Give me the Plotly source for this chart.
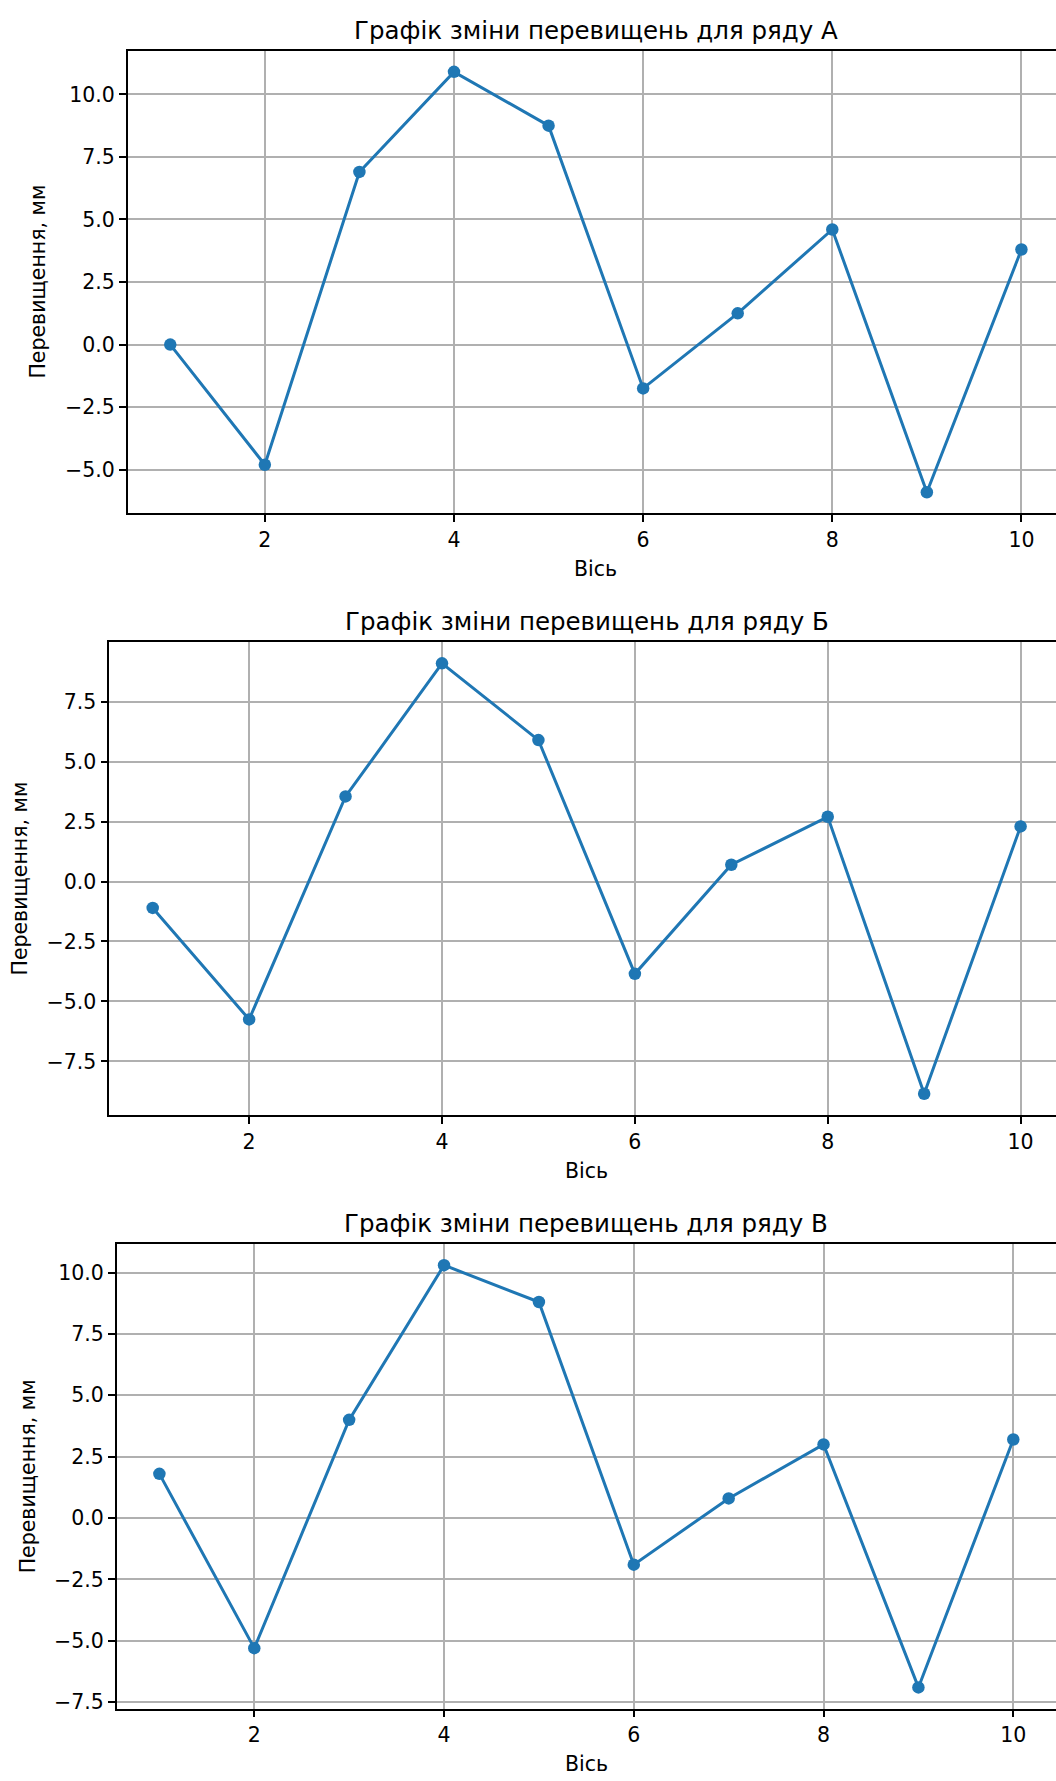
import plotly.graph_objects as go

# ---- data ----
axis_points = [1, 2, 3, 4, 5, 6, 7, 8, 9, 10]
series_a = [0.0, -4.8, 6.9, 10.9, 8.75, -1.75, 1.25, 4.6, -5.9, 3.8]
series_b = [-1.1, -5.75, 3.55, 9.1, 5.9, -3.85, 0.7, 2.7, -8.85, 2.3]
series_c = [1.8, -5.3, 4.0, 10.3, 8.8, -1.9, 0.8, 3.0, -6.9, 3.2]
titles = ["Графік зміни перевищень для ряду А",
          "Графік зміни перевищень для ряду Б",
          "Графік зміни перевищень для ряду В"]
x_label = "Вісь"
y_label = "Перевищення, мм"

W, H = 1056, 1781
FONT = "DejaVu Sans"
BLUE = "#1f77b4"
TICK_SIZE = 20.5
TITLE_SIZE = 24.5

# panel geometry in pixels (left, right(beyond crop), top, bottom, ylabel x)
panels = [
    dict(L=127.7, R=1064.0, T=51.0, B=515.0, YL=38.5),
    dict(L=109.3, R=1064.0, T=644.0, B=1119.0, YL=20.0),
    dict(L=116.7, R=1056.0, T=1248.3, B=1714.3, YL=28.0),
]
series = [series_a, series_b, series_c]

fig = go.Figure()
annotations = []
layout_axes = {}

xmin_d, xmax_d = min(axis_points), max(axis_points)
xpad = 0.05 * (xmax_d - xmin_d)
x0, x1 = xmin_d - xpad, xmax_d + xpad

for i, (p, ys) in enumerate(zip(panels, series)):
    n = "" if i == 0 else str(i + 1)
    fig.add_trace(go.Scatter(
        x=axis_points, y=ys, mode="lines+markers",
        line=dict(color=BLUE, width=3.0),
        marker=dict(color=BLUE, size=12.5),
        xaxis="x" + n, yaxis="y" + n, showlegend=False, cliponaxis=False,
    ))
    ymin, ymax = min(ys), max(ys)
    ypad = 0.05 * (ymax - ymin)
    xr_end = x0 + (x1 - x0) * (W - p["L"]) / (p["R"] - p["L"])
    common = dict(
        showgrid=True, gridcolor="#b0b0b0", gridwidth=1.6,
        zeroline=False, showline=True, linecolor="#000000", linewidth=1.6,
        ticks="outside", ticklen=7, tickwidth=1.6, tickcolor="#000000",
        tickfont=dict(family=FONT, size=TICK_SIZE, color="#000000"),
    )
    layout_axes["xaxis" + n] = dict(
        common, domain=[p["L"] / W, 1.0], range=[x0, xr_end],
        anchor="y" + n, tick0=0, dtick=2, mirror=True,
    )
    layout_axes["yaxis" + n] = dict(
        common, domain=[1 - p["B"] / H, 1 - p["T"] / H],
        range=[ymin - ypad, ymax + ypad], anchor="x" + n,
        tick0=0, dtick=2.5, tickformat=".1f",
    )
    cx = (p["L"] + p["R"]) / 2
    annotations.append(dict(
        text=titles[i], x=cx / W, y=1 - (p["T"] - 20.5) / H,
        xref="paper", yref="paper", xanchor="center", yanchor="middle",
        showarrow=False, font=dict(family=FONT, size=TITLE_SIZE, color="#000000"),
    ))
    annotations.append(dict(
        text=x_label, x=cx / W, y=1 - (p["B"] + 55.5) / H,
        xref="paper", yref="paper", xanchor="center", yanchor="middle",
        showarrow=False, font=dict(family=FONT, size=TICK_SIZE, color="#000000"),
    ))
    annotations.append(dict(
        text=y_label, x=p["YL"] / W, y=1 - ((p["T"] + p["B"]) / 2) / H,
        xref="paper", yref="paper", xanchor="center", yanchor="middle",
        textangle=-90, showarrow=False,
        font=dict(family=FONT, size=TICK_SIZE, color="#000000"),
    ))

fig.update_layout(
    width=W, height=H, margin=dict(l=0, r=0, t=0, b=0),
    paper_bgcolor="white", plot_bgcolor="white",
    annotations=annotations, showlegend=False, **layout_axes,
)

fig.write_html(
    "out.html",
    config={"displayModeBar": False},
    post_script="document.body.style.margin='0';document.body.style.padding='0';"
                "document.body.style.overflow='hidden';"
                "document.documentElement.style.overflow='hidden';",
)
